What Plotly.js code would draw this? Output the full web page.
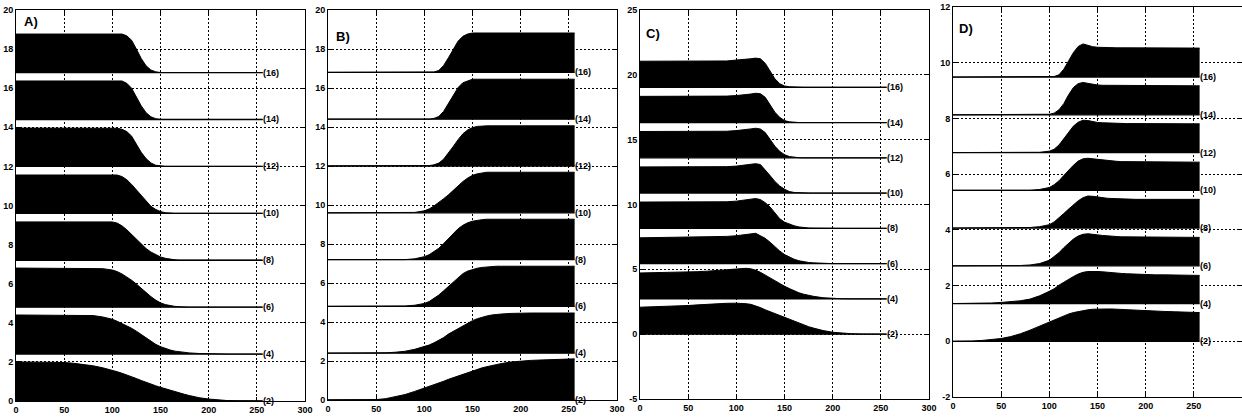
<!DOCTYPE html>
<html><head><meta charset="utf-8">
<script src="https://cdn.plot.ly/plotly-3.0.1.min.js"></script>
<style>html,body{margin:0;padding:0;background:#fff;} #chart{width:1242px;height:417px;}</style>
</head><body><div id="chart"></div>
<script>
// common sample positions (x) for every curve
const X = [0,10,20,30,40,50,60,70,80,90,100,105,110,115,120,125,130,135,140,145,150,155,160,165,170,175,180,190,200,210,220,230,240,250,256];
const curveLabels = ['(2)','(4)','(6)','(8)','(10)','(12)','(14)','(16)'];
const panelNames = ['A)','B)','C)','D)'];
const xTicks = [0,50,100,150,200,250,300];
const yTicksAB = [0,2,4,6,8,10,12,14,16,18,20];
const yTicksC = [-5,0,5,10,15,20,25];
const yTicksD = [-2,0,2,4,6,8,10,12];

// baseline of each curve
const offsetsA = [0,2.4,4.8,7.2,9.6,12.0,14.4,16.8];
const offsetsB = [0,2.4,4.8,7.2,9.6,12.0,14.4,16.8];
const offsetsC = [0,2.72,5.44,8.16,10.88,13.6,16.32,19.04];
const offsetsD = [0,1.355,2.71,4.065,5.42,6.775,8.13,9.485];

// Panel A
const A2  = [2.0,2.0,2.0,2.0,1.99,1.97,1.93,1.87,1.80,1.70, 1.58,1.50,1.42,1.34,1.25,1.15,1.05,0.95,0.86,0.78,0.70,0.62,0.55,0.47,0.40,0.34,0.28, 0.17,0.10,0.05,0.02,0.01,0,0,0];
const A4  = [2.0,2.0,2.0,2.0,2.0,2.0,2.0,2.0,1.97,1.90, 1.78,1.68,1.57,1.45,1.32,1.17,1.0,0.84,0.68,0.50,0.38,0.28,0.21,0.15,0.11,0.08,0.06, 0.03,0.01,0,0,0,0,0,0];
const A6  = [2.0,2.0,2.0,2.0,2.0,2.0,2.0,2.0,2.0,1.97, 1.90,1.82,1.70,1.55,1.38,1.18,0.96,0.74,0.54,0.36,0.22,0.13,0.07,0.04,0.02,0,0, 0,0,0,0,0,0,0,0];
const A8  = [1.96,1.96,1.96,1.96,1.96,1.96,1.96,1.96,1.96,1.96, 1.96,1.90,1.76,1.56,1.32,1.05,0.80,0.60,0.42,0.28,0.17,0.10,0.05,0.02,0,0,0, 0,0,0,0,0,0,0,0];
const A10 = [1.96,1.96,1.96,1.96,1.96,1.96,1.96,1.96,1.96,1.96, 1.96,1.96,1.88,1.72,1.48,1.20,0.90,0.60,0.36,0.20,0.09,0.03,0,0,0,0,0, 0,0,0,0,0,0,0,0];
const A12 = [1.96,1.96,1.96,1.96,1.96,1.96,1.96,1.96,1.96,1.96, 1.96,1.95,1.90,1.78,1.55,1.15,0.72,0.40,0.18,0.06,0.02,0,0,0,0,0,0, 0,0,0,0,0,0,0,0];
const A14 = [1.97,1.97,1.97,1.97,1.97,1.97,1.97,1.97,1.97,1.97, 1.97,1.97,1.97,1.85,1.60,1.15,0.70,0.35,0.14,0.04,0,0,0,0,0,0,0, 0,0,0,0,0,0,0,0];
const A16 = [1.97,1.97,1.97,1.97,1.97,1.97,1.97,1.97,1.97,1.97, 1.97,1.97,1.97,1.88,1.65,1.20,0.72,0.35,0.13,0.04,0,0,0,0,0,0,0, 0,0,0,0,0,0,0,0];

// Panel B
const B2  = [0,0,0,0,0,0.02,0.07,0.16,0.28,0.44, 0.60,0.69,0.78,0.87,0.96,1.06,1.15,1.24,1.33,1.42,1.50,1.58,1.65,1.71,1.77,1.82,1.87, 1.95,2.0,2.03,2.05,2.07,2.09,2.10,2.11];
const B4  = [0,0,0,0,0,0,0.02,0.05,0.10,0.20, 0.33,0.42,0.53,0.66,0.80,0.98,1.12,1.28,1.42,1.55,1.67,1.77,1.85,1.91,1.96,1.99,2.01, 2.04,2.06,2.06,2.06,2.06,2.06,2.06,2.06];
const B6  = [0,0,0,0,0,0,0,0,0.02,0.06, 0.15,0.25,0.40,0.58,0.80,1.02,1.25,1.50,1.68,1.81,1.90,1.96,2.0,2.03,2.06,2.06,2.06, 2.06,2.06,2.06,2.06,2.06,2.06,2.06,2.06];
const B8  = [0,0,0,0,0,0,0,0,0,0.04, 0.15,0.25,0.40,0.58,0.82,1.08,1.35,1.58,1.76,1.89,1.97,2.02,2.05,2.07,2.07,2.07,2.07, 2.07,2.07,2.07,2.07,2.07,2.07,2.07,2.07];
const B10 = [0,0,0,0,0,0,0,0,0,0.02, 0.10,0.20,0.35,0.52,0.72,0.92,1.15,1.38,1.60,1.78,1.92,2.0,2.05,2.08,2.08,2.08,2.08, 2.08,2.08,2.08,2.08,2.08,2.08,2.08,2.08];
const B12 = [0,0,0,0,0,0,0,0,0,0, 0,0.02,0.06,0.15,0.35,0.65,1.0,1.35,1.65,1.85,1.97,2.03,2.06,2.06,2.06,2.06,2.06, 2.06,2.06,2.06,2.06,2.06,2.06,2.06,2.06];
const B14 = [0,0,0,0,0,0,0,0,0,0, 0,0,0.04,0.14,0.40,0.80,1.25,1.62,1.87,1.98,2.05,2.05,2.05,2.05,2.05,2.05,2.05, 2.05,2.05,2.05,2.05,2.05,2.05,2.05,2.05];
const B16 = [0,0,0,0,0,0,0,0,0,0, 0,0,0.02,0.10,0.35,0.75,1.20,1.60,1.85,1.97,2.02,2.02,2.02,2.02,2.02,2.02,2.02, 2.02,2.02,2.02,2.02,2.02,2.02,2.02,2.02];

// Panel C
const C2  = [2.08,2.10,2.12,2.15,2.18,2.21,2.26,2.31,2.35,2.38, 2.39,2.38,2.35,2.30,2.20,2.05,1.88,1.73,1.58,1.43,1.28,1.13,0.98,0.83,0.70,0.58,0.47, 0.28,0.15,0.07,0.03,0.01,0,0,0];
const C4  = [2.0,2.01,2.03,2.04,2.06,2.08,2.10,2.14,2.20,2.27, 2.32,2.35,2.36,2.32,2.22,2.05,1.83,1.60,1.40,1.18,0.98,0.80,0.62,0.47,0.36,0.27,0.20, 0.09,0.03,0.01,0,0,0,0,0];
const C6  = [1.99,2.0,2.01,2.02,2.03,2.04,2.05,2.06,2.08,2.10, 2.15,2.20,2.26,2.32,2.34,2.15,1.95,1.65,1.30,0.98,0.70,0.50,0.34,0.22,0.14,0.09,0.06, 0.02,0,0,0,0,0,0,0];
const C8  = [2.03,2.03,2.03,2.03,2.03,2.03,2.03,2.03,2.03,2.05, 2.10,2.15,2.20,2.26,2.30,2.22,1.98,1.65,1.20,0.75,0.48,0.32,0.20,0.11,0.06,0.03,0.02, 0,0,0,0,0,0,0,0];
const C10 = [2.02,2.02,2.02,2.02,2.02,2.02,2.02,2.02,2.02,2.04, 2.08,2.12,2.16,2.22,2.27,2.20,1.80,1.35,0.90,0.55,0.30,0.12,0.05,0.02,0,0,0, 0,0,0,0,0,0,0,0];
const C12 = [2.03,2.03,2.03,2.03,2.03,2.03,2.03,2.03,2.03,2.05, 2.10,2.13,2.17,2.23,2.28,2.22,1.95,1.45,0.90,0.50,0.24,0.10,0.04,0.01,0,0,0, 0,0,0,0,0,0,0,0];
const C14 = [2.02,2.02,2.02,2.02,2.02,2.02,2.02,2.02,2.02,2.04, 2.08,2.11,2.15,2.20,2.26,2.22,1.95,1.40,0.80,0.40,0.15,0.06,0.02,0,0,0,0, 0,0,0,0,0,0,0,0];
const C16 = [2.01,2.01,2.01,2.01,2.01,2.01,2.01,2.01,2.01,2.03, 2.10,2.12,2.15,2.20,2.25,2.20,1.85,1.30,0.66,0.28,0.10,0.04,0.01,0,0,0,0, 0,0,0,0,0,0,0,0];

// Panel D
const D2  = [0,0,0.01,0.03,0.06,0.10,0.17,0.27,0.40,0.55, 0.70,0.78,0.85,0.92,0.98,1.03,1.07,1.10,1.13,1.15,1.16,1.16,1.16,1.16,1.15,1.15,1.14, 1.13,1.11,1.09,1.07,1.06,1.04,1.04,1.03];
const D4  = [0,0,0,0,0.02,0.04,0.07,0.10,0.16,0.28, 0.44,0.53,0.66,0.77,0.87,0.97,1.06,1.12,1.15,1.16,1.15,1.14,1.12,1.11,1.10,1.08,1.07, 1.05,1.04,1.03,1.03,1.02,1.02,1.01,1.01];
const D6  = [0,0,0,0,0,0,0,0.01,0.03,0.08, 0.20,0.32,0.47,0.65,0.82,0.96,1.07,1.13,1.15,1.14,1.11,1.09,1.07,1.06,1.05,1.04,1.04, 1.03,1.03,1.03,1.03,1.02,1.02,1.02,1.02];
const D8  = [0,0,0,0,0,0,0,0,0.02,0.05, 0.12,0.22,0.36,0.52,0.68,0.84,0.98,1.09,1.15,1.14,1.11,1.09,1.07,1.06,1.05,1.04,1.04, 1.03,1.03,1.03,1.03,1.03,1.03,1.03,1.03];
const D10 = [0,0,0,0,0,0,0,0,0,0.03, 0.10,0.20,0.34,0.53,0.72,0.90,1.05,1.13,1.15,1.13,1.10,1.08,1.06,1.05,1.04,1.03,1.03, 1.02,1.02,1.02,1.02,1.01,1.01,1.01,1.01];
const D12 = [0,0,0,0,0,0,0,0,0,0.01, 0.05,0.12,0.27,0.50,0.73,0.95,1.09,1.16,1.15,1.11,1.08,1.07,1.06,1.05,1.05,1.04,1.04, 1.04,1.04,1.04,1.03,1.03,1.03,1.03,1.03];
const D14 = [0,0,0,0,0,0,0,0,0,0, 0.02,0.06,0.18,0.40,0.72,0.98,1.12,1.16,1.13,1.09,1.07,1.06,1.06,1.05,1.05,1.05,1.05, 1.05,1.05,1.04,1.04,1.04,1.04,1.04,1.04];
const D16 = [0,0,0,0,0,0,0,0,0,0, 0,0.02,0.08,0.28,0.58,0.88,1.10,1.19,1.14,1.09,1.07,1.06,1.05,1.05,1.05,1.05,1.05, 1.05,1.05,1.05,1.04,1.04,1.04,1.04,1.04];

const panels = [
  {offsets: offsetsA, curves: [A2,A4,A6,A8,A10,A12,A14,A16], yticks: yTicksAB},
  {offsets: offsetsB, curves: [B2,B4,B6,B8,B10,B12,B14,B16], yticks: yTicksAB},
  {offsets: offsetsC, curves: [C2,C4,C6,C8,C10,C12,C14,C16], yticks: yTicksC},
  {offsets: offsetsD, curves: [D2,D4,D6,D8,D10,D12,D14,D16], yticks: yTicksD}
];

// layout geometry (pixels of the 1242x417 figure)
const W = 1242, H = 417;
const boxes = [
  {l:16, r:305, t:10, b:401},
  {l:328, r:617, t:10, b:400},
  {l:640, r:929, t:10, b:399},
  {l:953, r:1242, t:7, b:397}
];
const letterPos = [
  {x:0.022, y:0.97},
  {x:0.022, y:0.933},
  {x:0.015, y:0.94},
  {x:0.015, y:0.946}
];

const FONT = "'Liberation Sans Narrow','Arial Narrow','Liberation Sans',Arial,sans-serif";
const traces = [];
const annotations = [];
const layout = {
  width: W, height: H,
  margin: {l:0, r:0, t:0, b:0, pad:0},
  paper_bgcolor: '#fff', plot_bgcolor: '#fff',
  showlegend: false,
  font: {family: FONT, color: '#000', size: 9, weight: 'bold'},
  annotations: annotations
};

panels.forEach((p, i) => {
  const s = i === 0 ? '' : String(i + 1);
  const box = boxes[i];
  const yr = [p.yticks[0], p.yticks[p.yticks.length - 1]];
  const common = {
    showline: true, linecolor: '#000', linewidth: 1, mirror: 'ticks',
    ticks: 'inside', ticklen: 4, tickcolor: '#000', tickwidth: 1,
    showgrid: true, gridcolor: '#000', gridwidth: 1, griddash: '2px,2px',
    zeroline: false, fixedrange: true,
    tickfont: {family: FONT, size: 9, color: '#000', weight: 'bold'}
  };
  layout['xaxis' + s] = Object.assign({}, common, {
    domain: [box.l / W, box.r / W], anchor: 'y' + s,
    range: [xTicks[0], xTicks[xTicks.length - 1]],
    tickmode: 'array', tickvals: xTicks, ticktext: xTicks.map(String)
  });
  layout['yaxis' + s] = Object.assign({}, common, {
    domain: [(H - box.b) / H, (H - box.t) / H], anchor: 'x' + s,
    range: yr, tickmode: 'array', tickvals: p.yticks, ticktext: p.yticks.map(String)
  });
  p.curves.forEach((c, j) => {
    const base = p.offsets[j];
    traces.push({
      x: X, y: X.map(() => base), xaxis: 'x' + s, yaxis: 'y' + s,
      mode: 'lines', line: {color: '#000', width: 1.3}, hoverinfo: 'skip'
    });
    traces.push({
      x: X, y: c.map(v => v + base), xaxis: 'x' + s, yaxis: 'y' + s,
      mode: 'lines', line: {color: '#000', width: 1}, fill: 'tonexty', fillcolor: '#000',
      hoverinfo: 'skip'
    });
    annotations.push({
      xref: 'x' + s, yref: 'y' + s, x: X[X.length - 1], y: base,
      text: curveLabels[j], showarrow: false, xanchor: 'left', yanchor: 'middle', xshift: -2,
      font: {family: FONT, size: 9, color: '#000', weight: 'bold'}
    });
  });
  annotations.push({
    xref: 'x' + s + ' domain', yref: 'y' + s + ' domain',
    x: letterPos[i].x, y: letterPos[i].y, text: panelNames[i], showarrow: false,
    xanchor: 'left', yanchor: 'middle',
    font: {family: FONT, size: 13, color: '#000', weight: 'bold'}
  });
});

Plotly.newPlot('chart', traces, layout, {displayModeBar: false, staticPlot: true});
</script>
</body></html>
